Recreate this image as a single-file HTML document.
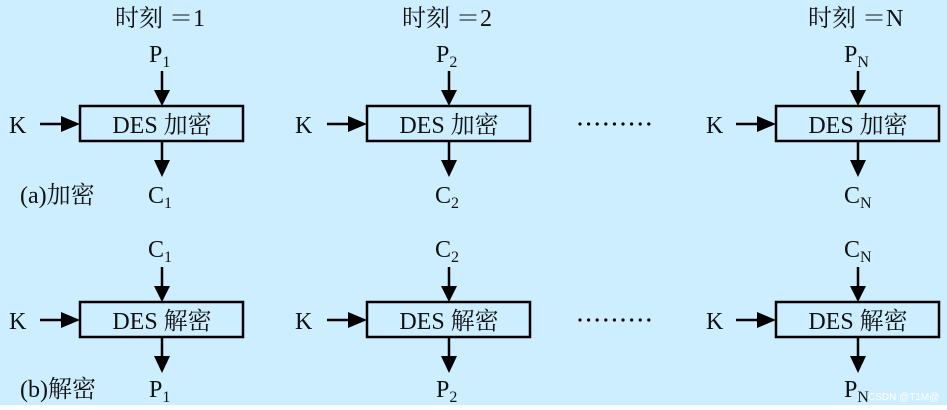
<!DOCTYPE html>
<html><head><meta charset="utf-8"><style>
html,body{margin:0;padding:0;background:#fff}
svg{display:block}
text{font-family:"Liberation Serif","Noto Serif CJK SC",serif;fill:#111;font-size:24px}
</style></head><body>
<svg width="947" height="410" viewBox="0 0 947 410" xmlns="http://www.w3.org/2000/svg">
<rect x="0" y="0" width="947" height="405" fill="#cdeefe"/>
<defs>
<g id="enc">
  <line x1="0" y1="71" x2="0" y2="92" stroke="#000" stroke-width="2.5"/>
  <polygon points="-8,90 8,90 0,106" fill="#000"/>
  <rect x="-82" y="106" width="163" height="35" fill="none" stroke="#000" stroke-width="2.5"/>
  <line x1="0" y1="141" x2="0" y2="162" stroke="#000" stroke-width="2.5"/>
  <polygon points="-8,160 8,160 0,177" fill="#000"/>
  <line x1="-122" y1="124" x2="-100" y2="124" stroke="#000" stroke-width="2.5"/>
  <polygon points="-101,116 -101,132 -82,124" fill="#000"/>
</g>
<g id="dots" fill="#000">
  <circle cx="580" cy="0" r="1.6"/><circle cx="588.6" cy="0" r="1.6"/><circle cx="597.2" cy="0" r="1.6"/>
  <circle cx="605.8" cy="0" r="1.6"/><circle cx="614.4" cy="0" r="1.6"/><circle cx="623" cy="0" r="1.6"/>
  <circle cx="631.6" cy="0" r="1.6"/><circle cx="640.2" cy="0" r="1.6"/><circle cx="648.8" cy="0" r="1.6"/>
</g>
</defs>
<use href="#enc" x="162" y="0"/>
<use href="#enc" x="449" y="0"/>
<use href="#enc" x="858" y="0"/>
<use href="#enc" x="162" y="196"/>
<use href="#enc" x="449" y="196"/>
<use href="#enc" x="858" y="196"/>
<use href="#dots" x="0" y="124"/>
<use href="#dots" x="0" y="320"/>

<text x="115" y="26">时刻 ＝1</text>
<text x="402" y="26">时刻 ＝2</text>
<text x="808" y="26">时刻 ＝N</text>

<text x="149" y="62">P<tspan font-size="16" dy="5">1</tspan></text>
<text x="436" y="62">P<tspan font-size="16" dy="5">2</tspan></text>
<text x="844" y="62">P<tspan font-size="16" dy="5">N</tspan></text>

<text x="9" y="133">K</text>
<text x="295" y="133">K</text>
<text x="706" y="133">K</text>
<text x="9" y="329">K</text>
<text x="295" y="329">K</text>
<text x="706" y="329">K</text>

<text x="162" y="133" text-anchor="middle">DES 加密</text>
<text x="449" y="133" text-anchor="middle">DES 加密</text>
<text x="858" y="133" text-anchor="middle">DES 加密</text>
<text x="162" y="329" text-anchor="middle">DES 解密</text>
<text x="449" y="329" text-anchor="middle">DES 解密</text>
<text x="858" y="329" text-anchor="middle">DES 解密</text>

<text x="20" y="203">(a)加密</text>
<text x="20" y="397">(b)解密</text>

<text x="148" y="203">C<tspan font-size="16" dy="5">1</tspan></text>
<text x="435" y="203">C<tspan font-size="16" dy="5">2</tspan></text>
<text x="844" y="203">C<tspan font-size="16" dy="5">N</tspan></text>

<text x="148" y="257">C<tspan font-size="16" dy="5">1</tspan></text>
<text x="435" y="257">C<tspan font-size="16" dy="5">2</tspan></text>
<text x="844" y="257">C<tspan font-size="16" dy="5">N</tspan></text>

<text x="149" y="397">P<tspan font-size="16" dy="5">1</tspan></text>
<text x="436" y="397">P<tspan font-size="16" dy="5">2</tspan></text>
<text x="844" y="397">P<tspan font-size="16" dy="5">N</tspan></text>
<text x="868" y="400" style="font-family:'Liberation Sans',sans-serif;font-size:10px;fill:#fff">CSDN @T1M@</text>
</svg>
</body></html>
